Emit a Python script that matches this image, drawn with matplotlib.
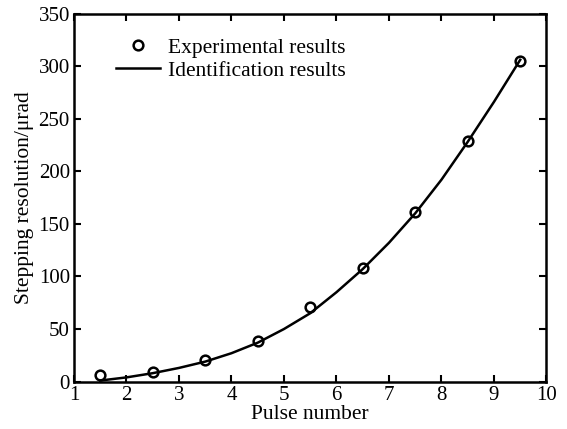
import matplotlib
matplotlib.use("Agg")
from matplotlib import pyplot as plt

plt.rcParams['font.family'] = ['Liberation Serif', 'DejaVu Serif']

# experimental points
pulse_exp = [1.5, 2.5, 3.5, 4.5, 5.5, 6.5, 7.5, 8.5, 9.5]
res_exp = [6.3, 9.1, 20.2, 38.6, 71.2, 108.3, 161, 228.4, 304.5]

# identification curve
pulse_id = [1.5, 2, 2.5, 3, 3.5, 4, 4.5, 5, 5.5, 6, 6.5, 7, 7.5, 8, 8.5, 9, 9.5]
res_id = [1, 4, 8, 13, 19, 27, 37, 50, 65, 85, 107, 132, 160, 192, 228, 266, 306]

xticks = [1, 2, 3, 4, 5, 6, 7, 8, 9, 10]
yticks = [0, 50, 100, 150, 200, 250, 300, 350]

fig = plt.figure(figsize=(5.67, 4.29), dpi=100)
ax = fig.add_axes([0.1305, 0.1105, 0.8333, 0.858])

ax.plot(pulse_exp, res_exp, 'o', mfc='none', mec='black', mew=1.8, ms=7,
        label='Experimental results')
ax.plot(pulse_id, res_id, '-', color='black', lw=1.8, label='Identification results')

ax.set_xlim(1, 10)
ax.set_ylim(0, 350)
ax.set_xticks(xticks)
ax.set_yticks(yticks)
ax.tick_params(direction='in', top=True, right=True, length=5, width=1.5,
               labelsize=15, pad=3)
for s in ax.spines.values():
    s.set_linewidth(1.8)

ax.set_xlabel("Pulse number", fontsize=15.5, labelpad=0)
ax.set_ylabel("Stepping resolution/μrad", fontsize=15.5, labelpad=3)

ax.legend(loc='upper left', bbox_to_anchor=(0.058, 0.975), frameon=False,
          fontsize=15.5, handlelength=2.0, handletextpad=0.4,
          labelspacing=0.12, borderpad=0.2)

fig.savefig("out.png", dpi=100)
